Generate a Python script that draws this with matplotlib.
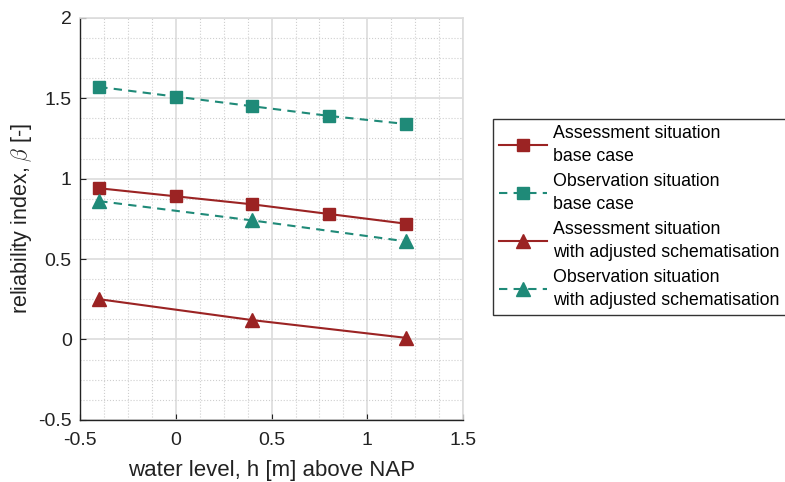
import numpy as np
import matplotlib
matplotlib.use("Agg")
import matplotlib.pyplot as plt
from matplotlib.ticker import MultipleLocator

plt.rcParams['font.family'] = ['Liberation Sans', 'DejaVu Sans']
plt.rcParams['mathtext.fontset'] = 'cm'

# waterstanden en betrouwbaarheidsindices
h_base = [-0.4, 0.0, 0.4, 0.8, 1.2]
beta_assess_base = [0.94, 0.89, 0.84, 0.78, 0.72]
beta_obs_base = [1.57, 1.51, 1.45, 1.39, 1.34]

h_adj = [-0.4, 0.4, 1.2]
beta_assess_adj = [0.25, 0.12, 0.01]
beta_obs_adj = [0.86, 0.74, 0.61]

labels = ['Assessment situation\nbase case',
          'Observation situation\nbase case',
          'Assessment situation\nwith adjusted schematisation',
          'Observation situation\nwith adjusted schematisation']

rood = '#9b2323'
groen = '#1f8a78'

fig = plt.figure(figsize=(7.85, 4.82), dpi=100)
ax = fig.add_axes([0.102, 0.129, 0.488, 0.834])

ax.plot(h_base, beta_assess_base, '-', color=rood, lw=1.5, marker='s', ms=8.5, label=labels[0])
ax.plot(h_base, beta_obs_base, '--', color=groen, lw=1.5, marker='s', ms=8.5, dashes=(4, 3), label=labels[1])
ax.plot(h_adj, beta_assess_adj, '-', color=rood, lw=1.5, marker='^', ms=10, label=labels[2])
ax.plot(h_adj, beta_obs_adj, '--', color=groen, lw=1.5, marker='^', ms=10, dashes=(4, 3), label=labels[3])

ax.set_xlim(-0.5, 1.5)
ax.set_ylim(-0.5, 2)
ax.xaxis.set_minor_locator(MultipleLocator(0.125))
ax.yaxis.set_minor_locator(MultipleLocator(0.125))
ax.set_xticks([-0.5, 0, 0.5, 1, 1.5])
ax.set_xticklabels(['-0.5', '0', '0.5', '1', '1.5'])
ax.set_yticks([-0.5, 0, 0.5, 1, 1.5, 2])
ax.set_yticklabels(['-0.5', '0', '0.5', '1', '1.5', '2'])

ax.grid(True, which='major', color='#dcdcdc', lw=1.2)
ax.grid(True, which='minor', color='#cfcfcf', lw=0.8, ls=':')
ax.set_axisbelow(True)

for s in ['top', 'right']:
    ax.spines[s].set_color('#dcdcdc')
    ax.spines[s].set_linewidth(1.2)
for s in ['left', 'bottom']:
    ax.spines[s].set_color('#222222')
    ax.spines[s].set_linewidth(1.0)

ax.tick_params(which='major', direction='in', length=4, labelsize=14, colors='#222222', pad=6)
ax.tick_params(axis='x', which='major', pad=9)
ax.tick_params(which='minor', length=0)

ax.set_xlabel('water level, h [m] above NAP', fontsize=16, color='#222222', labelpad=8)
ax.set_ylabel(r'reliability index, $\beta$ [-]', fontsize=15.5, color='#222222', labelpad=3)

leg = fig.legend(loc='upper left', bbox_to_anchor=(0.628, 0.753), fontsize=12.8,
                 frameon=True, fancybox=False, edgecolor='#333333', framealpha=1,
                 handlelength=2.7, handletextpad=0.35, labelspacing=0.45, borderpad=0.35,
                 borderaxespad=0)
leg.get_frame().set_linewidth(1.0)
for t in leg.get_texts():
    t.set_linespacing(1.45)

fig.savefig('out.png', dpi=100)
